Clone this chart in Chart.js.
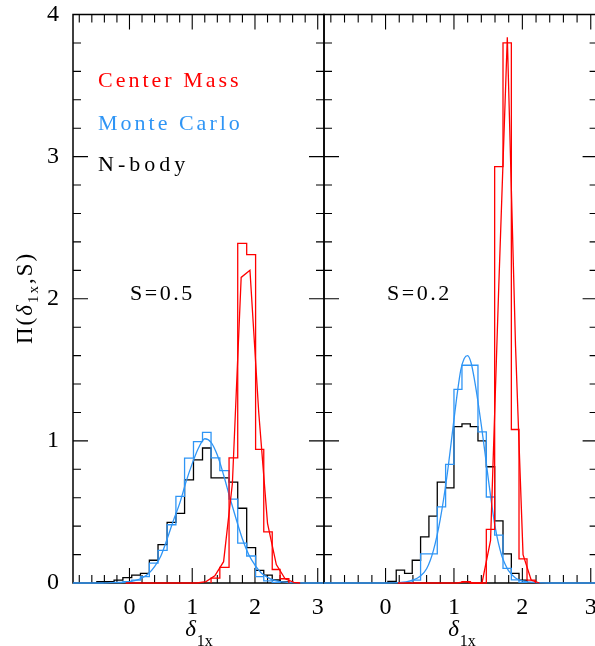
<!DOCTYPE html>
<html>
<head>
<meta charset="utf-8">
<script src="https://cdn.jsdelivr.net/npm/chart.js@4.4.1/dist/chart.umd.min.js"></script>
<style>
  html, body { margin: 0; padding: 0; background: #fff; }
  #wrap { position: relative; width: 595px; height: 646px; overflow: hidden; }
  canvas { position: absolute; top: 0; }
</style>
</head>
<body>
<div id="wrap">
  <canvas id="left" width="330" height="646" style="left:0"></canvas>
  <canvas id="right" width="310" height="646" style="left:300px"></canvas>
</div>
<script>
const xTickLabels = [0, 1, 2, 3];
const yTickLabels = [0, 1, 2, 3, 4];

// S=0.5 panel
const binsA = [-0.52, -0.38, -0.245, -0.105, 0.036, 0.175, 0.317, 0.455, 0.6, 0.74, 0.878, 1.02,
  1.164, 1.3, 1.44, 1.587, 1.725, 1.868, 2.01, 2.14, 2.275, 2.4, 2.54];
const nbodyA = [0.01, 0.01, 0.02, 0.038, 0.056, 0.068, 0.16, 0.27, 0.427, 0.49, 0.725, 0.866,
  0.95, 0.74, 0.74, 0.71, 0.526, 0.249, 0.089, 0.056, 0.021, 0.008];
const monteHistA = [0, 0, 0.005, 0.01, 0.02, 0.045, 0.14, 0.23, 0.41, 0.61, 0.878, 0.995,
  1.06, 0.88, 0.79, 0.59, 0.28, 0.19, 0.045, 0.015, 0.005, 0];
const centerHistA = [0, 0, 0, 0, 0, 0, 0, 0, 0, 0, 0, 0,
  0, 0.035, 0.11, 0.88, 2.39, 2.31, 0.94, 0.36, 0.095, 0.03];
const monteCurveXA = [-0.9, -0.5, -0.3, -0.1, 0.0, 0.1, 0.2, 0.3, 0.4, 0.5, 0.6, 0.7, 0.8, 0.9, 1.0, 1.1,
  1.2, 1.3, 1.4, 1.5, 1.6, 1.7, 1.8, 1.9, 2.0, 2.1, 2.2, 2.3, 2.4, 2.6, 2.8, 3.1];
const monteCurveYA = [0, 0, 0.002, 0.005, 0.01, 0.018, 0.035, 0.065, 0.115, 0.19, 0.31, 0.44, 0.56, 0.71, 0.84, 0.95,
  1.015, 0.99, 0.9, 0.76, 0.6, 0.45, 0.31, 0.2, 0.125, 0.07, 0.04, 0.02, 0.01, 0.002, 0, 0];
const centerCurveXA = [-0.06, 1.08, 1.22, 1.36, 1.5, 1.64, 1.78, 1.92, 2.06, 2.2, 2.34, 2.48, 2.62, 2.72];
const centerCurveYA = [0, 0, 0.01, 0.05, 0.15, 0.7, 2.15, 2.2, 1.2, 0.42, 0.13, 0.03, 0.005, 0];

// S=0.2 panel
const binsB = [0.034, 0.156, 0.278, 0.39, 0.512, 0.634, 0.756, 0.878, 1.0, 1.117, 1.239, 1.351,
  1.473, 1.595, 1.717, 1.839, 1.951, 2.068, 2.19];
const nbodyB = [0.012, 0.09, 0.068, 0.16, 0.325, 0.47, 0.71, 0.67, 1.1, 1.12, 1.1, 1.0,
  0.818, 0.437, 0.205, 0.068, 0.02, 0];
const monteHistB = [0, 0, 0, 0.02, 0.205, 0.205, 0.536, 0.834, 1.363, 1.532, 1.532, 1.063,
  0.605, 0.337, 0.103, 0.022, 0.005, 0];
const centerHistB = [0, 0, 0, 0, 0, 0, 0, 0, 0, 0.01, 0, 0,
  0.377, 2.93, 3.8, 1.08, 0.17, 0.02];
const monteCurveXB = [-0.9, 0.0, 0.2, 0.3, 0.4, 0.5, 0.6, 0.7, 0.8, 0.9, 1.0, 1.05, 1.1, 1.15, 1.2, 1.25,
  1.3, 1.35, 1.4, 1.45, 1.5, 1.55, 1.6, 1.65, 1.7, 1.75, 1.8, 1.9, 2.0, 2.2, 2.4, 3.1];
const monteCurveYB = [0, 0, 0.003, 0.008, 0.02, 0.045, 0.1, 0.23, 0.45, 0.76, 1.15, 1.34, 1.5, 1.58, 1.6, 1.55,
  1.43, 1.28, 1.11, 0.93, 0.74, 0.56, 0.4, 0.28, 0.19, 0.13, 0.085, 0.035, 0.015, 0.003, 0, 0];
const centerCurveXB = [0.18, 1.05, 1.17, 1.29, 1.41, 1.535, 1.656, 1.78, 1.9, 2.01, 2.13, 2.25];
const centerCurveYB = [0, 0, 0.01, 0, 0, 0.3, 2.1, 3.84, 1.67, 0.2, 0.02, 0];

const RED = '#ff0000';
const BLUE = '#2f95f5';
const SERIF = "'Liberation Serif', 'DejaVu Serif', serif";

// outline of a histogram, leading/trailing empty bins dropped
function histPoints(edges, h) {
  let a = 0, b = h.length - 1;
  while (a < b && h[a] === 0) a++;
  while (b > a && h[b] === 0) b--;
  const pts = [{ x: edges[a], y: 0 }];
  for (let i = a; i <= b; i++) pts.push({ x: edges[i], y: h[i] });
  pts.push({ x: edges[b + 1], y: 0 });
  return pts;
}
function curvePoints(xs, ys) {
  return xs.map((x, i) => ({ x: x, y: ys[i] }));
}

function panelDatasets(edges, nbody, monteHist, centerHist, mx, my, cx, cy) {
  const base = { pointRadius: 0, fill: false, clip: 4 };
  return [
    { ...base, data: curvePoints(cx, cy), borderColor: RED, borderWidth: 1.3, tension: 0 },
    { ...base, data: histPoints(edges, centerHist), borderColor: RED, borderWidth: 1.3, stepped: true },
    { ...base, data: curvePoints(mx, my), borderColor: BLUE, borderWidth: 1.3, cubicInterpolationMode: 'monotone' },
    { ...base, data: histPoints(edges, monteHist), borderColor: BLUE, borderWidth: 1.3, stepped: true },
    { ...base, data: histPoints(edges, nbody), borderColor: '#000', borderWidth: 1.3, stepped: true }
  ];
}

// box with inward ticks on all four sides
const frame = {
  id: 'frame',
  beforeDatasetsDraw(chart) {
    const { ctx, chartArea: a, scales: { x, y } } = chart;
    ctx.save();
    ctx.strokeStyle = '#000';
    ctx.lineWidth = 1.1;
    ctx.beginPath();
    for (let k = -4; k <= 15; k++) {
      const len = k % 5 === 0 ? 15 : 8;
      const px = x.getPixelForValue(k * 0.2);
      ctx.moveTo(px, a.bottom); ctx.lineTo(px, a.bottom - len);
      ctx.moveTo(px, a.top); ctx.lineTo(px, a.top + len);
    }
    for (let k = 1; k < 20; k++) {
      const len = k % 5 === 0 ? 15 : 8;
      const py = y.getPixelForValue(k * 0.2);
      ctx.moveTo(a.left, py); ctx.lineTo(a.left + len, py);
      ctx.moveTo(a.right, py); ctx.lineTo(a.right - len, py);
    }
    ctx.stroke();
    ctx.lineWidth = 1.5;
    ctx.strokeRect(a.left, a.top, a.right - a.left, a.bottom - a.top);
    ctx.restore();
  }
};

function spaced(ctx, text, x, y, font, color, spacing) {
  ctx.font = font;
  ctx.fillStyle = color;
  ctx.letterSpacing = spacing + 'px';
  ctx.fillText(text, x, y);
  ctx.letterSpacing = '0px';
}

// δ_1x centred on cx with baseline y
function deltaLabel(ctx, cx, y) {
  const big = 'italic 23px ' + SERIF, small = '16px ' + SERIF;
  ctx.font = big; const w1 = ctx.measureText('δ').width;
  ctx.font = small; const w2 = ctx.measureText('1x').width;
  const x0 = cx - (w1 + w2 + 1) / 2;
  ctx.fillStyle = '#000';
  ctx.font = big; ctx.fillText('δ', x0, y);
  ctx.font = small; ctx.fillText('1x', x0 + w1 + 1, y + 10);
}

const leftNotes = {
  id: 'leftNotes',
  afterDraw(chart) {
    const ctx = chart.ctx;
    ctx.save();
    ctx.textBaseline = 'alphabetic';
    spaced(ctx, 'Center Mass', 98, 87, '22px ' + SERIF, RED, 3);
    spaced(ctx, 'Monte Carlo', 98, 130, '22px ' + SERIF, BLUE, 3);
    spaced(ctx, 'N-body', 98, 171, '22px ' + SERIF, '#000', 4);
    spaced(ctx, 'S=0.5', 130, 300, '22px ' + SERIF, '#000', 2.5);
    deltaLabel(ctx, 199, 636);

    // y-axis title  Π(δ_1x,S)
    ctx.translate(32, 298);
    ctx.rotate(-Math.PI / 2);
    const parts = [
      ['Π(', '23px ' + SERIF, 0],
      ['δ', 'italic 23px ' + SERIF, 0],
      ['1x', '15px ' + SERIF, 6],
      [',S)', '23px ' + SERIF, 0]
    ];
    ctx.letterSpacing = '2px';
    let total = 0;
    parts.forEach(p => { ctx.font = p[1]; total += ctx.measureText(p[0]).width; });
    let px = -total / 2;
    ctx.fillStyle = '#000';
    parts.forEach(p => { ctx.font = p[1]; ctx.fillText(p[0], px, p[2]); px += ctx.measureText(p[0]).width; });
    ctx.restore();
  }
};

const rightNotes = {
  id: 'rightNotes',
  afterDraw(chart) {
    const ctx = chart.ctx;
    ctx.save();
    spaced(ctx, 'S=0.2', 387 - 300, 300, '22px ' + SERIF, '#000', 2.5);
    deltaLabel(ctx, 462 - 300, 636);
    ctx.restore();
  }
};

function makeChart(id, padding, showY, datasets, notes) {
  const tickFont = { family: SERIF, size: 24 };
  return new Chart(document.getElementById(id), {
    type: 'line',
    data: { datasets: datasets },
    options: {
      responsive: false,
      animation: false,
      devicePixelRatio: 1,
      layout: { padding: padding },
      plugins: { legend: { display: false }, tooltip: { enabled: false } },
      scales: {
        x: {
          type: 'linear', min: -0.9, max: 3.1,
          grid: { display: false, drawTicks: false },
          border: { display: false },
          afterBuildTicks: s => { s.ticks = xTickLabels.map(v => ({ value: v })); },
          afterFit: s => { s.height = 63; s.paddingLeft = 0; s.paddingRight = 0; },
          ticks: { font: tickFont, color: '#000', padding: 10, maxRotation: 0, autoSkip: false }
        },
        y: {
          type: 'linear', min: 0, max: 4, display: showY,
          grid: { display: false, drawTicks: false },
          border: { display: false },
          afterBuildTicks: s => { s.ticks = yTickLabels.map(v => ({ value: v })); },
          afterFit: s => { s.width = showY ? 73 : 0; s.paddingTop = 0; s.paddingBottom = 0; },
          ticks: { font: tickFont, color: '#000', padding: 14, autoSkip: false }
        }
      }
    },
    plugins: [frame, notes]
  });
}

makeChart('left', { left: 0, right: 6, top: 14.5, bottom: 0 }, true,
  panelDatasets(binsA, nbodyA, monteHistA, centerHistA, monteCurveXA, monteCurveYA, centerCurveXA, centerCurveYA),
  leftNotes);
makeChart('right', { left: 24, right: 12.4, top: 14.5, bottom: 0 }, false,
  panelDatasets(binsB, nbodyB, monteHistB, centerHistB, monteCurveXB, monteCurveYB, centerCurveXB, centerCurveYB),
  rightNotes);
</script>
</body>
</html>
